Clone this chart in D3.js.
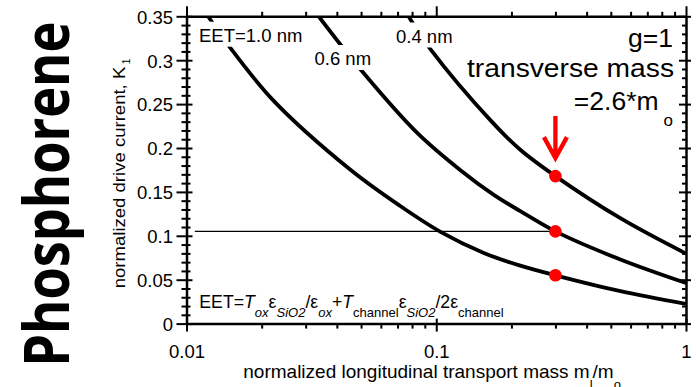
<!DOCTYPE html>
<html>
<head>
<meta charset="utf-8">
<script src="https://cdn.jsdelivr.net/npm/d3@7"></script>
<style>
body { margin: 0; background: #fff; }
text { font-family: "Liberation Sans", Arial, sans-serif; fill: #000; }
.tick text { font-size: 18.5px; }
</style>
</head>
<body>
<div id="vis"></div>
<script>
var width = 696,
    height = 387;

// K1 vs normalized longitudinal mass
var massEET10 = [0.0122, 0.0149, 0.0223, 0.0452, 0.0717, 0.104, 0.155, 0.217, 0.3, 0.546, 1];
var kEET10    = [0.35, 0.315, 0.254, 0.1755, 0.134, 0.1045, 0.0805, 0.066, 0.055, 0.037, 0.0225];
var massEET06 = [0.0338, 0.0496, 0.0837, 0.125, 0.17, 0.217, 0.3, 0.546, 1];
var kEET06    = [0.35, 0.29, 0.2175, 0.1747, 0.1466, 0.1281, 0.105, 0.073, 0.0462];
var massEET04 = [0.0774, 0.0946, 0.165, 0.217, 0.3, 0.546, 1];
var kEET04    = [0.35, 0.313, 0.2315, 0.198, 0.168, 0.12, 0.0797];
var curveLabels = ["EET=1.0 nm", "0.6 nm", "0.4 nm"];

// red markers at m_l = 0.3
var markMass = 0.3;
var markK = [0.168, 0.105, 0.055];
var guideK = 0.105;
var guideStart = 0.0108;

var kTicks = [0, 0.05, 0.1, 0.15, 0.2, 0.25, 0.3, 0.35];
var kTickLabels = ["0", "0.05", "0.1", "0.15", "0.2", "0.25", "0.3", "0.35"];
var massTicks = [0.01, 0.1, 1];
var massTickLabels = ["0.01", "0.1", "1"];

var svg = d3.select("#vis").append("svg")
    .attr("width", width)
    .attr("height", height);

svg.append("rect").attr("width", width).attr("height", height).attr("fill", "#fff");

var x = d3.scaleLog().domain([0.01, 1]).range([186.5, 686]);
var y = d3.scaleLinear().domain([0, 0.35]).range([323.6, 16.3]);

svg.append("clipPath").attr("id", "plot")
  .append("rect")
    .attr("x", x(0.01)).attr("y", y(0.35))
    .attr("width", x(1) - x(0.01)).attr("height", y(0) - y(0.35));

//--------CURVES--------//
var line = d3.line()
    .x(function(d) { return x(d[0]); })
    .y(function(d) { return y(d[1]); })
    .curve(d3.curveCatmullRom.alpha(0.5));

var curves = [d3.zip(massEET10, kEET10), d3.zip(massEET06, kEET06), d3.zip(massEET04, kEET04)];

svg.append("g").attr("clip-path", "url(#plot)")
  .selectAll("path")
    .data(curves)
    .enter()
    .append("path")
    .attr("d", line)
    .attr("fill", "none")
    .attr("stroke", "#000")
    .attr("stroke-width", 3.8);

// thin guide line to the middle marker
svg.append("line")
    .attr("x1", x(guideStart)).attr("x2", x(markMass))
    .attr("y1", y(guideK)).attr("y2", y(guideK))
    .attr("stroke", "#000")
    .attr("stroke-width", 1.1);

// curve labels sit on white boxes that break the lines
var labelPos = [[199, 41.7], [314.5, 65], [396, 42.5]];
curveLabels.forEach(function(t, i) {
    var g = svg.append("g");
    var bg = g.append("rect").attr("fill", "#fff");
    var txt = g.append("text")
        .attr("x", labelPos[i][0])
        .attr("y", labelPos[i][1])
        .style("font-size", "18.5px")
        .text(t);
    var b = txt.node().getBBox();
    bg.attr("x", b.x - 2).attr("y", b.y - 3)
      .attr("width", b.width + 4).attr("height", b.height + 4);
});

//--------MARKERS--------//
svg.selectAll(".dot")
    .data(markK)
    .enter()
    .append("circle")
    .attr("class", "dot")
    .attr("cx", x(markMass))
    .attr("cy", function(d) { return y(d); })
    .attr("r", 6.3)
    .attr("fill", "#ff0000");

var ax = x(markMass), ay = y(markK[0]);
svg.append("path")
    .attr("d", "M" + ax + "," + (ay - 60) + "L" + ax + "," + (ay - 18) +
               "M" + (ax - 11.5) + "," + (ay - 39) + "L" + ax + "," + (ay - 18) + "L" + (ax + 11.5) + "," + (ay - 39))
    .attr("fill", "none")
    .attr("stroke", "#ff0000")
    .attr("stroke-width", 4.3);

//--------AXES--------//
var minorMass = [];
[0.01, 0.1].forEach(function(d) { for (var i = 2; i < 10; i++) minorMass.push(d * i); });
var minorK = d3.range(1, 35).map(function(i) { return i / 100; }).filter(function(d) { return Math.round(d * 100) % 5 !== 0; });

function styleAxis(g) {
    g.attr("font-size", null).attr("font-family", null);
    g.selectAll(".tick line").attr("stroke-width", 2);
    g.select(".domain").attr("stroke-width", 2.5);
}

// bottom
var axBottom = svg.append("g").attr("transform", "translate(0," + y(0) + ")");
axBottom.append("g").call(d3.axisBottom(x).tickValues(minorMass).tickSize(5).tickSizeOuter(0).tickFormat(""))
    .call(styleAxis).select(".domain").remove();
axBottom.append("g").call(d3.axisBottom(x).tickValues(massTicks).tickSize(8).tickSizeOuter(0)
        .tickFormat(function(d, i) { return massTickLabels[i]; }))
    .call(styleAxis)
    .call(function(g) {
        g.selectAll(".tick line").attr("y1", -5);
        g.selectAll(".tick text").attr("y", 34.7).attr("dy", null);
    });

// top
var axTop = svg.append("g").attr("transform", "translate(0," + y(0.35) + ")");
axTop.append("g").call(d3.axisTop(x).tickValues(minorMass).tickSize(4.5).tickSizeOuter(0).tickFormat(""))
    .call(styleAxis).select(".domain").remove();
axTop.append("g").call(d3.axisTop(x).tickValues(massTicks).tickSize(10).tickSizeOuter(0).tickFormat(""))
    .call(styleAxis);

// left
var axLeft = svg.append("g").attr("transform", "translate(" + x(0.01) + ",0)");
axLeft.append("g").call(d3.axisLeft(y).tickValues(minorK).tickSize(5).tickSizeOuter(0).tickFormat(""))
    .call(styleAxis)
    .call(function(g) { g.selectAll(".tick line").attr("x1", 4); })
    .select(".domain").remove();
axLeft.append("g").call(d3.axisLeft(y).tickValues(kTicks).tickSize(10).tickSizeOuter(0)
        .tickFormat(function(d, i) { return kTickLabels[i]; }))
    .call(styleAxis)
    .call(function(g) {
        g.selectAll(".tick line").attr("x1", 6);
        g.selectAll(".tick text").attr("x", -13.5).attr("dy", "0.37em");
    });

// right
var axRight = svg.append("g").attr("transform", "translate(" + x(1) + ",0)");
axRight.append("g").call(d3.axisLeft(y).tickValues(minorK).tickSize(4).tickSizeOuter(0).tickFormat(""))
    .call(styleAxis).select(".domain").remove();
axRight.append("g").call(d3.axisLeft(y).tickValues(kTicks).tickSize(7).tickSizeOuter(0).tickFormat(""))
    .call(styleAxis)
    .call(function(g) { g.selectAll(".tick line").attr("x1", 5); });

//--------TEXT--------//
var yTitle = svg.append("g").attr("transform", "translate(125,288.3) rotate(-90)");
yTitle.append("text")
    .style("font-size", "17px")
    .attr("textLength", 221.6)
    .attr("lengthAdjust", "spacingAndGlyphs")
    .text("normalized drive current, K");
yTitle.append("text")
    .attr("x", 224).attr("y", 5)
    .style("font-size", "10px")
    .text("1");

var xTitle = svg.append("text")
    .attr("x", 243.3).attr("y", 378.3)
    .style("font-size", "19px");
xTitle.append("tspan").text("normalized longitudinal transport mass m");
xTitle.append("tspan").attr("dy", 11).style("font-size", "13px").text("l");
xTitle.append("tspan").attr("dy", -11).text("/m");
xTitle.append("tspan").attr("dy", 11).style("font-size", "13px").text("o");

svg.append("text")
    .attr("x", 673).attr("y", 46.7)
    .attr("text-anchor", "end")
    .style("font-size", "26.5px")
    .text("g=1");
svg.append("text")
    .attr("x", 674).attr("y", 77.3)
    .attr("text-anchor", "end")
    .style("font-size", "26.5px")
    .attr("textLength", 207)
    .attr("lengthAdjust", "spacingAndGlyphs")
    .text("transverse mass");
var massText = svg.append("text")
    .attr("x", 673).attr("y", 110)
    .attr("text-anchor", "end")
    .style("font-size", "26.5px");
massText.append("tspan").text("=2.6*m");
massText.append("tspan").attr("dx", 5).attr("dy", 16).style("font-size", "17px").text("o");

// EET definition
var eet = svg.append("text")
    .attr("x", 199.3).attr("y", 307.7)
    .style("font-size", "17.7px");
var parts = [
    ["EET=", 0, false], ["T", 0, true], ["ox", 1, true], ["\u03b5", 0, false],
    ["SiO2", 1, true], ["/\u03b5", 0, false], ["ox", 1, true], ["+", 0, false],
    ["T", 0, true], ["channel", 1, false], ["\u03b5", 0, false], ["SiO2", 1, true],
    ["/2\u03b5", 0, false], ["channel", 1, false]
];
var level = 0;
parts.forEach(function(p) {
    var t = eet.append("tspan").text(p[0]);
    if (p[1] !== level) { t.attr("dy", p[1] ? 9 : -9); level = p[1]; }
    if (p[1]) t.style("font-size", "13px");
    if (p[2]) t.style("font-style", "italic");
});

svg.append("text")
    .attr("transform", "translate(69,366.7) rotate(-90)")
    .style("font-family", "'Open Sans', sans-serif")
    .style("font-weight", "bold")
    .style("font-size", "62px")
    .attr("textLength", 345)
    .attr("lengthAdjust", "spacingAndGlyphs")
    .text("Phosphorene");
</script>
</body>
</html>
